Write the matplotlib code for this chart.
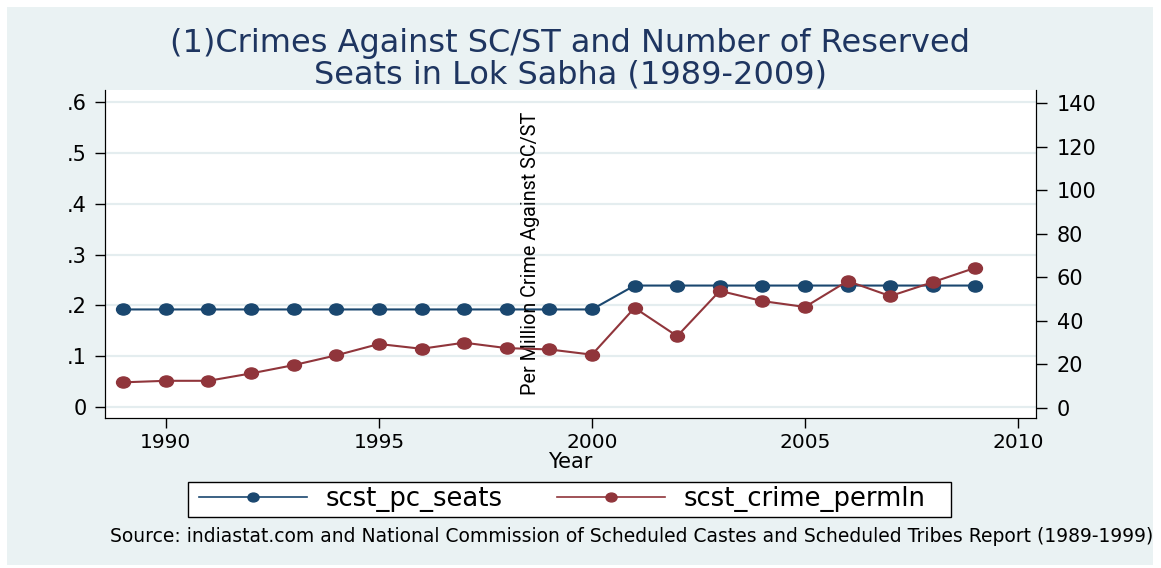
import matplotlib.pyplot as plt
from matplotlib.patches import Rectangle
from matplotlib.lines import Line2D
from matplotlib.path import Path
from matplotlib.transforms import Affine2D

# data
years = list(range(1989, 2010))
scst_pc_seats = [0.192] * 12 + [0.239] * 9
scst_crime_permln = [11.8, 12.5, 12.5, 15.9, 19.7, 24.2, 29.4, 27.2, 30.0, 27.5, 26.9,
                     24.5, 46.0, 33.0, 53.8, 49.1, 46.4, 58.3, 51.4, 57.8, 64.4]
left_ticks = [0, 0.1, 0.2, 0.3, 0.4, 0.5, 0.6]
left_labels = ['0', '.1', '.2', '.3', '.4', '.5', '.6']
right_ticks = [0, 20, 40, 60, 80, 100, 120, 140]
x_ticks = [1990, 1995, 2000, 2005, 2010]

BG = '#EAF2F3'
GRID = '#E4EDEF'
NAVY = '#1A476F'
MAROON = '#90353B'
TITLE_C = '#1E3560'

plt.rcParams['font.family'] = ['DejaVu Sans']

# the reference is stretched sideways, so dots are a bit wider than tall
oval = Path(Affine2D().scale(1.25, 1.0).transform(Path.unit_circle().vertices),
            Path.unit_circle().codes)

fig = plt.figure(figsize=(11.61, 5.68), dpi=100)
fig.patch.set_facecolor('white')
bg = Rectangle((7 / 1161, 3 / 568), 1146 / 1161, 558 / 568,
               transform=fig.transFigure, facecolor=BG, edgecolor='none', zorder=0)
fig.add_artist(bg)

ax = fig.add_axes([0.0904, 0.264, 0.8019, 0.5775])
ax.set_facecolor('white')
ax.set_xlim(1988.57, 2010.42)
ax.set_ylim(-0.0216, 0.6236)
for y in left_ticks:
    ax.axhline(y, color=GRID, lw=1.6, zorder=0)
ax.plot(years, scst_pc_seats, color=NAVY, lw=1.5, marker=oval, markersize=10, zorder=3)
ax.set_yticks(left_ticks)
ax.set_yticklabels(left_labels)
ax.set_xticks(x_ticks)
ax.tick_params(axis='y', direction='out', length=7, width=1, labelsize=15, pad=6)
ax.tick_params(axis='x', direction='out', length=7, width=1, labelsize=14.5, pad=4)
ax.spines['top'].set_visible(False)

ax2 = ax.twinx()
ax2.set_ylim(-4.6, 146)
ax2.plot(years, scst_crime_permln, color=MAROON, lw=1.5, marker=oval, markersize=10, zorder=3)
ax2.set_yticks(right_ticks)
ax2.tick_params(axis='y', direction='out', length=8, width=1, labelsize=15, pad=7)
ax2.spines['top'].set_visible(False)

# right axis title sits inside the plot in the reference
ax.text(0.457, 0.503, 'Per Million Crime Against SC/ST', transform=ax.transAxes,
        rotation=90, ha='center', va='center', fontsize=14.2, family='Roboto', zorder=5)

fig.text(0.491, 0.924, '(1)Crimes Against SC/ST and Number of Reserved',
         ha='center', va='center', fontsize=23, color=TITLE_C)
fig.text(0.491, 0.868, 'Seats in Lok Sabha (1989-2009)',
         ha='center', va='center', fontsize=23, color=TITLE_C)
fig.text(0.491, 0.187, 'Year', ha='center', va='center', fontsize=15)

# legend box drawn separately so its padding can follow the reference
fig.add_artist(Rectangle((188 / 1161, 51 / 568), 763 / 1161, 35 / 568,
                         transform=fig.transFigure, facecolor='white',
                         edgecolor='black', lw=1, zorder=1))
handles = [Line2D([], [], color=NAVY, lw=1.2, marker=oval, markersize=8),
           Line2D([], [], color=MAROON, lw=1.2, marker=oval, markersize=8)]
leg = fig.legend(handles, ['scst_pc_seats', 'scst_crime_permln'], loc='center',
                 bbox_to_anchor=(0.4841, 0.1206), ncol=2, frameon=False,
                 handlelength=4.2, handletextpad=0.7, columnspacing=2.1,
                 borderpad=0, borderaxespad=0, prop={'size': 18.6})
leg.set_zorder(2)

src = fig.text(0.0947, 0.0546, 'Source: indiastat.com and National Commission of Scheduled '
               'Castes and Scheduled Tribes Report (1989-1999)', ha='left', va='center',
               fontsize=13.5)
src.set_clip_path(bg)

fig.savefig('out.png', dpi=100)
